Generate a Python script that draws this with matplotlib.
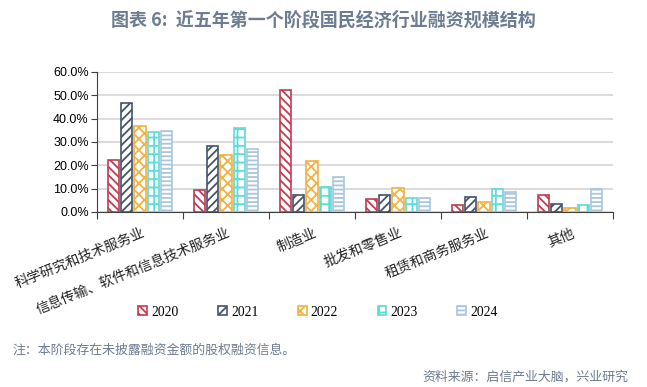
import matplotlib
matplotlib.use("Agg")
import matplotlib.pyplot as plt
import numpy as np
from matplotlib.ticker import FuncFormatter

plt.rcParams['font.family'] = ['Noto Sans CJK SC', 'DejaVu Sans']
plt.rcParams['hatch.linewidth'] = 1.3

categories = ["科学研究和技术服务业", "信息传输、软件和信息技术服务业", "制造业",
              "批发和零售业", "租赁和商务服务业", "其他"]
years = ["2020", "2021", "2022", "2023", "2024"]
v2020 = [22.5, 9.4, 52.4, 5.4, 3.0, 7.3]
v2021 = [46.9, 28.5, 7.4, 7.5, 6.5, 3.3]
v2022 = [37.0, 24.6, 22.0, 10.5, 4.3, 1.6]
v2023 = [34.3, 36.0, 10.8, 6.1, 10.0, 2.9]
v2024 = [34.6, 26.8, 15.2, 5.8, 8.4, 9.8]
series = [v2020, v2021, v2022, v2023, v2024]
yticks = [0, 10, 20, 30, 40, 50, 60]

colors = ["#c23b50", "#44546a", "#f2b241", "#5cdcd8", "#a9c6dc"]
hatches = ["\\\\\\\\", "////", "xxx", "++", "----"]

fig = plt.figure(figsize=(6.47, 3.87), dpi=100)
ax = fig.add_axes([97/647, 1-212/387, (613-97)/647, (212-72)/387])

x = np.arange(len(categories))
w = 0.128
pitch = 0.155
for k, (vals, c, h, yr) in enumerate(zip(series, colors, hatches, years)):
    ax.bar(x + (k - 2) * pitch, vals, width=w, facecolor="white", edgecolor=c,
           hatch=h, linewidth=1.2, label=yr, zorder=3)

ax.set_xlim(-0.5, len(categories) - 0.5)
ax.set_ylim(0, 60)
ax.set_yticks(yticks)
ax.yaxis.set_major_formatter(FuncFormatter(lambda v, p: f"{v:.1f}%"))
ax.grid(axis='y', color="#d4d4d4", linewidth=1.2, zorder=0)
for s in ["top", "right"]:
    ax.spines[s].set_visible(False)
ax.spines["left"].set_color("#404040")
ax.spines["bottom"].set_color("#404040")
ax.tick_params(axis='y', length=4, color="#404040", labelsize=9, pad=2)
for t in ax.get_yticklabels():
    t.set_fontfamily("Liberation Sans")

ax.set_xticks(np.arange(len(categories) + 1) - 0.5)
ax.set_xticklabels([])
ax.tick_params(axis='x', length=5, color="#404040")

for i, cat in enumerate(categories):
    ax.annotate(cat, xy=(x[i], 0), xycoords='data', xytext=(1, -10),
                textcoords='offset points', rotation=22, ha='right', va='top',
                rotation_mode='anchor', fontsize=10, color="#222222")

leg = fig.legend(loc='center', bbox_to_anchor=(318/647, 1-312/387), ncol=5,
                 frameon=False, handlelength=0.65, handleheight=0.65,
                 columnspacing=2.9, handletextpad=0.3,
                 prop={'family': 'Liberation Serif', 'size': 9.8})

fig.text(0.5, 1-20/387, "图表 6:  近五年第一个阶段国民经济行业融资规模结构",
         ha='center', va='center', fontsize=13, fontweight='bold', color="#6d7c90")
fig.text(12/647, 1-350/387, "注：本阶段存在未披露融资金额的股权融资信息。",
         ha='left', va='center', fontsize=9.3, color="#6d7c90")
fig.text(628/647, 1-377/387, "资料来源：启信产业大脑，兴业研究",
         ha='right', va='center', fontsize=9.3, color="#6d7c90")

fig.savefig("out.png", dpi=100)
